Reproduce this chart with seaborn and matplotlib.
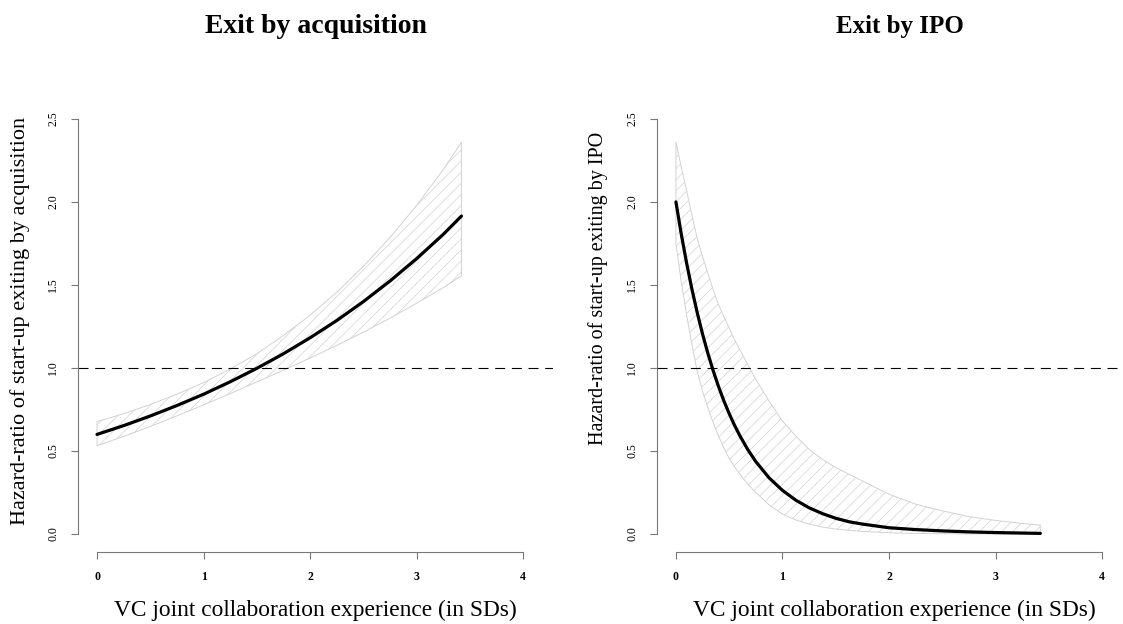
import seaborn as sns
import matplotlib.pyplot as plt
import pandas as pd

# values
x_acq = [0, 0.25, 0.5, 0.75, 1.0, 1.25, 1.5, 1.75, 2.0, 2.25, 2.5, 2.75, 3.0, 3.25, 3.42]
hr_acq = [0.600, 0.653, 0.711, 0.774, 0.842, 0.917, 0.998, 1.086, 1.182, 1.286,
          1.400, 1.524, 1.659, 1.805, 1.915]
hi_acq = [0.677, 0.725, 0.780, 0.842, 0.912, 0.994, 1.086, 1.196, 1.318, 1.456,
          1.612, 1.786, 1.980, 2.195, 2.359]
lo_acq = [0.532, 0.588, 0.648, 0.712, 0.778, 0.846, 0.916, 0.987, 1.060, 1.136,
          1.216, 1.300, 1.390, 1.484, 1.555]

x_ipo = [0, 0.05, 0.1, 0.15, 0.2, 0.25, 0.3, 0.35, 0.4, 0.45, 0.5, 0.55, 0.6, 0.675,
         0.75, 0.875, 1.0, 1.125, 1.25, 1.375, 1.5, 1.625, 1.75, 2.0, 2.25, 2.5,
         2.75, 3.0, 3.25, 3.42]
hr_ipo = [2.000, 1.807, 1.633, 1.475, 1.333, 1.204, 1.088, 0.983, 0.888, 0.802,
          0.725, 0.655, 0.592, 0.508, 0.436, 0.338, 0.263, 0.204, 0.158, 0.123,
          0.095, 0.074, 0.060, 0.038, 0.027, 0.019, 0.013, 0.009, 0.006, 0.004]
hi_ipo = [2.36, 2.21, 2.07, 1.92, 1.78, 1.67, 1.57, 1.47, 1.38, 1.31, 1.24, 1.17,
          1.11, 1.02, 0.93, 0.80, 0.68, 0.59, 0.51, 0.45, 0.40, 0.36, 0.32, 0.24,
          0.18, 0.14, 0.105, 0.082, 0.064, 0.054]
lo_ipo = [1.75, 1.52, 1.32, 1.14, 0.98, 0.86, 0.76, 0.67, 0.59, 0.52, 0.455, 0.405,
          0.36, 0.30, 0.25, 0.175, 0.12, 0.085, 0.06, 0.042, 0.03, 0.022, 0.016,
          0.008, 0.004, 0.002, 0.001, 0.0006, 0.0003, 0.0002]

titles = ["Exit by acquisition", "Exit by IPO"]
ylabels = ["Hazard-ratio of start-up exiting by acquisition",
           "Hazard-ratio of start-up exiting by IPO"]
xlabel = "VC joint collaboration experience (in SDs)"
xticks = [0, 1, 2, 3, 4]
yticks = [0.0, 0.5, 1.0, 1.5, 2.0, 2.5]

sns.set_theme(style="white")
plt.rcParams['font.family'] = ['Liberation Serif', 'DejaVu Serif']
plt.rcParams['hatch.linewidth'] = 0.5
plt.rcParams['text.color'] = 'black'
plt.rcParams['axes.labelcolor'] = 'black'
plt.rcParams['xtick.color'] = 'black'
plt.rcParams['ytick.color'] = 'black'


def hazard_panel(ax, x, hr, lo, hi, title, ylab, ylab_size, title_size):
    df = pd.DataFrame({'x': x, 'hr': hr, 'lo': lo, 'hi': hi})
    ax.fill_between(df['x'], df['lo'], df['hi'], facecolor='none',
                    edgecolor='#d2d2d2', hatch='///', linewidth=0.7)
    sns.lineplot(data=df, x='x', y='hr', ax=ax, color='black', linewidth=2.3)
    ax.axhline(1.0, color='black', linewidth=0.8, dashes=(9, 6))

    ax.set_xlim(-0.178, 4.28)
    ax.set_ylim(-0.108, 2.596)
    for s in ['top', 'right']:
        ax.spines[s].set_visible(False)
    ax.spines['left'].set_bounds(0, 2.5)
    ax.spines['bottom'].set_bounds(0, 4)
    for s in ['left', 'bottom']:
        ax.spines[s].set_color('#777777')
        ax.spines[s].set_linewidth(0.8)

    ax.set_xticks(xticks)
    ax.set_xticklabels([str(t) for t in xticks], fontsize=8.5, fontweight='bold')
    ax.set_yticks(yticks)
    ax.set_yticklabels([f"{t:.1f}" for t in yticks], fontsize=8.5, rotation=90,
                       va='center')
    ax.tick_params(axis='both', direction='out', length=5, width=0.8,
                   color='#777777', pad=8.5, left=True, bottom=True)

    ax.set_xlabel(xlabel, fontsize=16.8, va='center')
    ax.xaxis.set_label_coords(0.5, -0.13)
    ax.set_ylabel(ylab, fontsize=ylab_size, va='center')
    ax.set_title(title, fontsize=title_size, fontweight='bold', y=1.171, pad=0,
                 va='center')


fig = plt.figure(figsize=(11.23, 6.24), dpi=100)
ax1 = fig.add_axes([0.0695, 0.1154, 0.423, 0.7196])
ax2 = fig.add_axes([0.585, 0.1154, 0.423, 0.7196])

hazard_panel(ax1, x_acq, hr_acq, lo_acq, hi_acq, titles[0], ylabels[0], 16, 20)
ax1.yaxis.set_label_coords(-0.122, 0.514)
hazard_panel(ax2, x_ipo, hr_ipo, lo_ipo, hi_ipo, titles[1], ylabels[1], 14.5, 18)
ax2.yaxis.set_label_coords(-0.124, 0.586)
ax2.title.set_x(0.512)

fig.savefig('out.png', dpi=100)
